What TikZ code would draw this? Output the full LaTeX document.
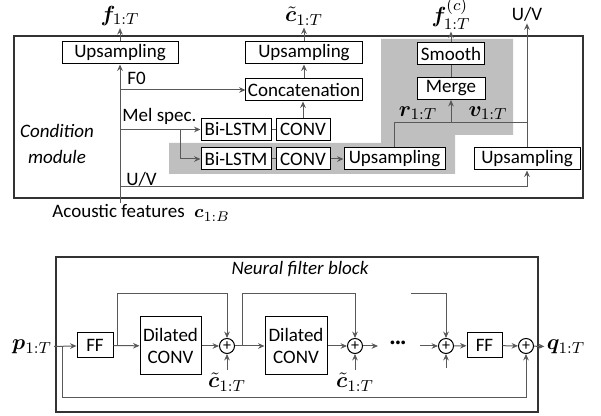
\documentclass[tikz,border=0pt]{standalone}
\usepackage{bm}
\usepackage{amsmath}
\usepackage{fontspec}
\setmainfont{Carlito}
\usetikzlibrary{arrows.meta}

\begin{document}
\begin{tikzpicture}[x=0.5pt, y=-0.5pt, font=\fontsize{9.5}{11}\selectfont,
		blk/.style={draw, fill=white, line width=0.5pt, inner sep=1pt, minimum height=11pt},
		sm/.style={draw, circle, line width=0.5pt, inner sep=0pt, minimum size=7.5pt, font=\fontsize{8}{8}\selectfont},
		lab/.style={inner sep=1pt, font=\fontsize{11}{13}\selectfont},
		con/.style={draw=black!65, line width=0.5pt},
		>={Stealth[length=3.2pt, width=2.8pt]}]
		\useasboundingbox (0,0) rectangle (601,416);
		
		% condition module
		\fill[gray!50] (381,39) -- (513,39) -- (513,135) -- (455,135) -- (455,174)
			-- (169,174) -- (169,143) -- (381,143) -- cycle;
		\draw[line width=0.7pt, black!80] (14,36) rectangle (583,198);
		\node [align=center, font=\fontsize{9.5}{13}\itshape] at (57,144) (cm) {Condition\\module};
		
		\node [blk, minimum width=58pt] at (120,53) (up1) {Upsampling};
		\node [blk, minimum width=58.5pt] at (304,53) (up2) {Upsampling};
		\node [blk, minimum width=33.5pt] at (451,54) (sm1) {Smooth};
		\node [blk, minimum width=58pt] at (304,90) (cat) {Concatenation};
		\node [blk, minimum width=34pt] at (451,88.5) (mrg) {Merge};
		\node [blk, minimum width=35pt] at (236,129.5) (bl1) {Bi-LSTM};
		\node [blk, minimum width=27pt] at (303,129.5) (cv1) {CONV};
		\node [blk, minimum width=35pt] at (236,159) (bl2) {Bi-LSTM};
		\node [blk, minimum width=27pt] at (303,159) (cv2) {CONV};
		\node [blk, minimum width=50.5pt] at (394.5,159) (up3) {Upsampling};
		\node [blk, minimum width=53pt] at (527,159) (up4) {Upsampling};
		
		\node [lab] at (120,16) (f) {$\bm{f}_{1:T}$};
		\node [lab] at (304,16) (ct) {$\tilde{\bm{c}}_{1:T}$};
		\node [lab] at (451,14) (fc) {$\bm{f}^{(c)}_{1:T}$};
		\node [inner sep=1pt] at (527,14) (uv) {U/V};
		\node [anchor=west, inner sep=0pt] at (127,78) (f0) {F0};
		\node [anchor=west, inner sep=0pt] at (122,116) (mel) {Mel spec.};
		\node [anchor=west, inner sep=0pt] at (126,179) (uv2) {U/V};
		\node [lab] at (418,113) (r) {$\bm{r}_{1:T}$};
		\node [lab] at (488,113) (v) {$\bm{v}_{1:T}$};
		\node [anchor=west, inner sep=0pt] at (52,213) (ac) {Acoustic features\enspace$\bm{c}_{1:B}$};
		
		\coordinate (a0) at (120,203);
		\coordinate (kf) at (120,90);
		\coordinate (km) at (120,129.5);
		\coordinate (kb) at (180,129.5);
		\coordinate (kv) at (120,187);
		\coordinate (ku) at (527,123);
		\coordinate (kr) at (451,123);
		
		\draw[con, ->] (a0) -- (up1);
		\draw[con, ->] (up1) -- (f);
		\draw[con, ->] (kf) -- (cat);
		\draw[con, ->] (km) -- (bl1);
		\draw[con, ->] (kb) |- (bl2);
		\draw[con] (bl1) -- (cv1);
		\draw[con] (bl2) -- (cv2);
		\draw[con, ->] (cv1.north) -- (cv1.north |- cat.south);
		\draw[con, ->] (cat) -- (up2);
		\draw[con, ->] (up2) -- (ct);
		\draw[con, ->] (cv2) -- (up3);
		\draw[con, ->] (kv) -| (up4);
		\draw[con, ->] (up4) -- (uv);
		\draw[con] (ku) -| (up3);
		\draw[con, ->] (kr) -- (mrg);
		\draw[con] (mrg) -- (sm1);
		\draw[con, ->] (sm1) -- (fc);
		
		% neural filter block
		\draw[line width=0.7pt, black!80] (56,257) rectangle (538,412);
		\node [font=\fontsize{9.5}{11}\itshape] at (300,269) (nf) {Neural filter block};
		
		\node [lab] at (32,347) (p) {$\bm{p}_{1:T}$};
		\node [blk, minimum width=18pt, minimum height=12.5pt] at (95,345.5) (ff1) {FF};
		\node [blk, align=center, minimum width=30.5pt, minimum height=29pt] at (170.5,346) (dc1) {Dilated\\CONV};
		\node [sm] at (227,346) (s1) {+};
		\node [blk, align=center, minimum width=31pt, minimum height=29pt] at (296,346) (dc2) {Dilated\\CONV};
		\node [sm] at (355,346) (s2) {+};
		\node [font=\bfseries] at (398,345) (dots) {···};
		\node [sm] at (446,346) (s3) {+};
		\node [blk, minimum width=17.5pt, minimum height=12.5pt] at (484.5,345.5) (ff2) {FF};
		\node [sm] at (526,346) (s4) {+};
		\node [lab] at (566,347) (q) {$\bm{q}_{1:T}$};
		\node [lab] at (227,382) (c1) {$\tilde{\bm{c}}_{1:T}$};
		\node [lab] at (355,382) (c2) {$\tilde{\bm{c}}_{1:T}$};
		
		\coordinate (pb) at (62,346);
		\coordinate (pd) at (62,398);
		\coordinate (k1) at (117,346);
		\coordinate (t1) at (227,294);
		\coordinate (k2) at (242,346);
		\coordinate (t2) at (355,294);
		\coordinate (e2) at (378,346);
		\coordinate (b3) at (420,346);
		\coordinate (k3) at (411,294);
		\coordinate (u3) at (446,368);
		
		\draw[con, ->] (p) -- (ff1);
		\draw[con, ->] (pb) -- (pd) -| (s4);
		\draw[con, ->] (ff1) -- (dc1);
		\draw[con, ->] (k1) |- (t1) -- (s1);
		\draw[con, ->] (dc1) -- (s1);
		\draw[con, ->] (c1) -- (s1);
		\draw[con, ->] (s1) -- (dc2);
		\draw[con, ->] (k2) |- (t2) -- (s2);
		\draw[con, ->] (dc2) -- (s2);
		\draw[con, ->] (c2) -- (s2);
		\draw[con, ->] (s2) -- (e2);
		\draw[con, ->] (b3) -- (s3);
		\draw[con, ->] (k3) -| (s3);
		\draw[con, ->] (u3) -- (s3);
		\draw[con, ->] (s3) -- (ff2);
		\draw[con, ->] (ff2) -- (s4);
		\draw[con, ->] (s4) -- (q);
	\end{tikzpicture}
\end{document}
